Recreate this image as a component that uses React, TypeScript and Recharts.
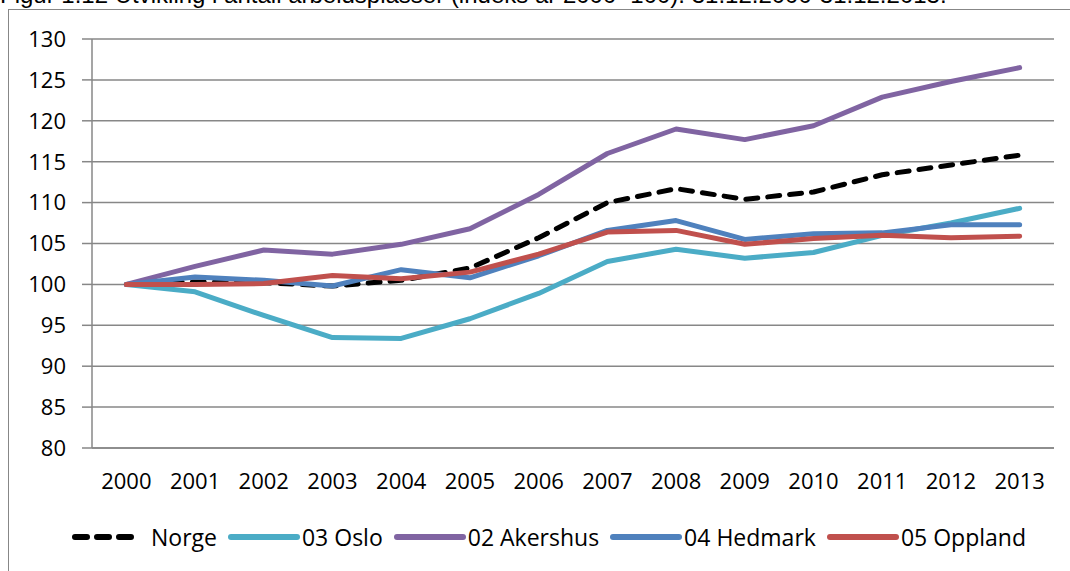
import { LineChart, Line, XAxis, YAxis, CartesianGrid, Legend } from "recharts";

const years = ["2000", "2001", "2002", "2003", "2004", "2005", "2006", "2007", "2008", "2009", "2010", "2011", "2012", "2013"];
const norge = [100, 100.3, 100.2, 99.8, 100.5, 102.0, 105.7, 110.0, 111.7, 110.4, 111.3, 113.4, 114.6, 115.8];
const oslo = [100, 99.1, 96.2, 93.5, 93.4, 95.8, 98.9, 102.8, 104.3, 103.2, 103.9, 106.0, 107.5, 109.3];
const akershus = [100, 102.2, 104.2, 103.7, 104.9, 106.8, 111.0, 116.0, 119.0, 117.7, 119.4, 122.9, 124.8, 126.5];
const hedmark = [100, 100.9, 100.5, 99.8, 101.8, 100.8, 103.5, 106.6, 107.8, 105.5, 106.2, 106.3, 107.3, 107.3];
const oppland = [100, 100.0, 100.1, 101.1, 100.7, 101.5, 103.7, 106.4, 106.6, 104.9, 105.6, 106.0, 105.7, 105.9];
const yTicks = [80, 85, 90, 95, 100, 105, 110, 115, 120, 125, 130];
const boundaryTicks = [0, 1, 2, 3, 4, 5, 6, 7, 8, 9, 10, 11, 12, 13, 14];

const series = [
  { key: "norge", name: "Norge", color: "#000000", dashed: true },
  { key: "oslo", name: "03 Oslo", color: "#4bacc6", dashed: false },
  { key: "akershus", name: "02 Akershus", color: "#8064a2", dashed: false },
  { key: "hedmark", name: "04 Hedmark", color: "#4f81bd", dashed: false },
  { key: "oppland", name: "05 Oppland", color: "#c0504d", dashed: false },
];

const data = years.map((year, i) => ({
  year,
  norge: norge[i],
  oslo: oslo[i],
  akershus: akershus[i],
  hedmark: hedmark[i],
  oppland: oppland[i],
}));

const FONT = "'Open Sans', sans-serif";
const GRID = "#878787";

// excel-style legend: thick line swatch, text right after it
function LegendContent() {
  return (
    <div style={{ height: 40, display: "flex", alignItems: "center", paddingLeft: 70, fontFamily: FONT, fontSize: 23, color: "#000" }}>
      {series.map((s) => (
        <div key={s.key} style={{ display: "flex", alignItems: "center", marginRight: 11 }}>
          <svg width={s.dashed ? 79 : 72} height={12}>
            {s.dashed ? (
              <line x1={5} y1={6} x2={64} y2={6} stroke={s.color} strokeWidth={6} strokeDasharray="12 10" strokeLinecap="round" />
            ) : (
              <line x1={3} y1={6} x2={69} y2={6} stroke={s.color} strokeWidth={6} strokeLinecap="round" />
            )}
          </svg>
          <span style={{ marginLeft: 2 }}>{s.name}</span>
        </div>
      ))}
    </div>
  );
}

export default function App() {
  return (
    <div style={{ position: "absolute", left: 0, top: 0, width: 1070, height: 571, overflow: "hidden", background: "#fff" }}>
      <div style={{ position: "absolute", left: 0, top: -17, fontFamily: "'Liberation Sans', Arial, sans-serif", fontSize: 24, lineHeight: "24px", whiteSpace: "nowrap", color: "#000" }}>
        Figur 1.12 Utvikling i antall arbeidsplasser (indeks år 2000=100). 31.12.2000-31.12.2013.
      </div>
      <div style={{ position: "absolute", left: 8, top: 9, width: 1200, height: 700, borderLeft: `1.5px solid ${GRID}`, borderTop: `1.5px solid ${GRID}` }} />
      <div style={{ position: "absolute", left: 0, top: 0 }}>
        <LineChart width={1070} height={571} data={data} margin={{ top: 39, right: 16, left: 0, bottom: 14 }}>
          <CartesianGrid vertical={false} stroke={GRID} strokeWidth={1.5} />
          <XAxis
            xAxisId="bounds"
            type="number"
            dataKey={() => 0}
            domain={[0, 14]}
            ticks={boundaryTicks}
            height={0}
            tickSize={8}
            tick={() => <g />}
            tickLine={{ stroke: GRID, strokeWidth: 1.5 }}
            axisLine={false}
          />
          <XAxis
            dataKey="year"
            scale="band"
            height={69}
            tickSize={0}
            tickMargin={25}
            tickLine={false}
            axisLine={{ stroke: GRID, strokeWidth: 1.5 }}
            tick={{ fill: "#000", fontSize: 22, fontFamily: FONT }}
            interval={0}
          />
          <YAxis
            width={92}
            domain={[80, 130]}
            ticks={yTicks}
            tickSize={10}
            tickMargin={16}
            interval={0}
            axisLine={{ stroke: GRID, strokeWidth: 1.5 }}
            tickLine={{ stroke: GRID, strokeWidth: 1.5 }}
            tick={{ fill: "#000", fontSize: 22, fontFamily: FONT }}
          />
          {series.map((s) => (
            <Line
              key={s.key}
              dataKey={s.key}
              name={s.name}
              type="linear"
              stroke={s.color}
              strokeWidth={5}
              strokeDasharray={s.dashed ? "12 10" : undefined}
              strokeLinecap="round"
              strokeLinejoin="round"
              dot={false}
              activeDot={false}
              isAnimationActive={false}
            />
          ))}
          <Legend verticalAlign="bottom" content={<LegendContent />} wrapperStyle={{ left: 0, width: 1070, height: 40 }} />
        </LineChart>
      </div>
    </div>
  );
}
